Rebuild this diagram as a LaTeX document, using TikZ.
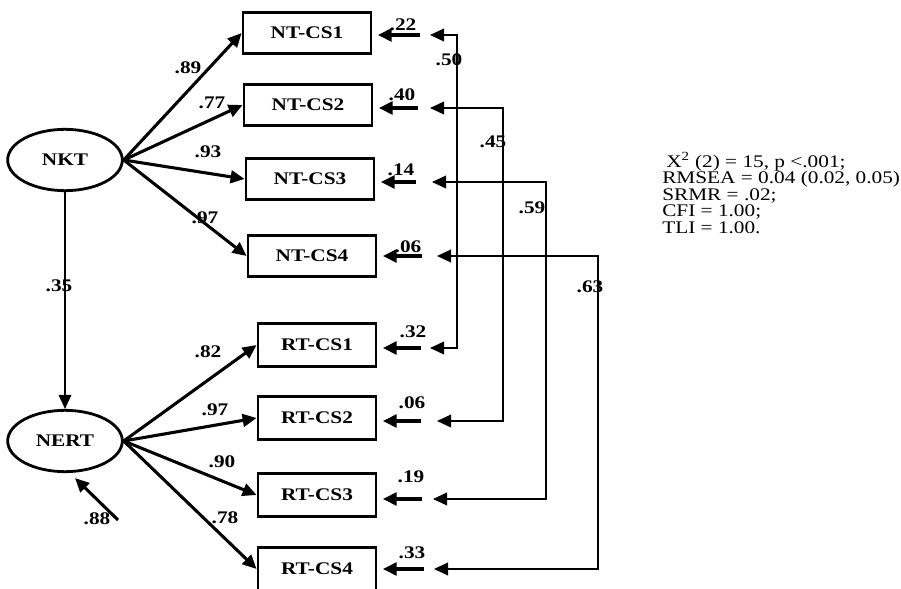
\documentclass[tikz,border=0pt]{standalone}
\usepackage{fontspec}
\setmainfont{Liberation Serif}[FakeStretch=1.2]
\usetikzlibrary{arrows.meta,calc,shapes.geometric}

\begin{document}
\begin{tikzpicture}[x=.75pt, y=-.75pt,
  every node/.style={font=\fontsize{13.3}{15}\selectfont\bfseries},
  ahead/.style={-{Triangle[length=10.5pt,width=9.5pt]}},
  latent/.style={draw, ellipse, line width=2.1pt, minimum width=86pt, minimum height=46pt, inner sep=0pt},
  ntbox/.style={draw, rectangle, line width=2.1pt, minimum width=96pt, minimum height=31pt, inner sep=0pt},
  rtbox/.style={ntbox, minimum width=88.5pt, minimum height=32pt},
  loading/.style={ahead, line width=2.3pt},
  resid/.style={ahead, line width=2.7pt, shorten >=4pt},
  corr/.style={{Triangle[length=10.5pt,width=9.5pt]}-{Triangle[length=10.5pt,width=9.5pt]}, line width=1.1pt},
  coef/.style={inner sep=0pt},
  fit/.style={font=\fontsize{13.3}{13}\selectfont, anchor=base west, inner sep=0pt}]
  \useasboundingbox (0,0) rectangle (901,589);
  \node[latent] (NKT) at (65,160) {NKT};
  \node[latent] (NERT) at (65,441) {NERT};
  \foreach \n/\x/\y/\t in {NT1/307/33/NT-CS1, NT2/308/105/NT-CS2, NT3/310/179/NT-CS3, NT4/312/256/NT-CS4}
    \node[ntbox] (\n) at (\x,\y) {\t};
  \foreach \n/\x/\y/\t in {RT1/317/345/RT-CS1, RT2/317/418/RT-CS2, RT3/317/495/RT-CS3, RT4/317/569/RT-CS4}
    \node[rtbox] (\n) at (\x,\y) {\t};
  \foreach \n/\v/\x/\y in {NT1/.89/188/68, NT2/.77/212/103, NT3/.93/208/152, NT4/.97/205/218} {
    \draw[loading] (NKT.east) -- (\n.west);
    \node[coef] (l\n) at (\x,\y) {\v};
  }
  \foreach \n/\v/\x/\y in {RT1/.82/208/352, RT2/.97/215/410, RT3/.90/222/462, RT4/.78/225/518} {
    \draw[loading] (NERT.east) -- (\n.west);
    \node[coef] (l\n) at (\x,\y) {\v};
  }
  \draw[ahead, line width=.9pt] (NKT.south) -- (NERT.north);
  \node[coef] (lNERT) at (59,286) {.35};
  \coordinate (dNERT) at (118,520);
  \draw[loading] (dNERT) -- ([shift={(10,5)}]NERT.south);
  \node[coef] (rNERT) at (97,519) {.88};
  \foreach \n/\v/\ex/\ey/\lx/\ly in {NT1/.22/420/35/403/25, NT2/.40/418/108/402/95,
      NT3/.14/416/182/401/170, NT4/.06/422/256/408/247, RT1/.32/421/348/413/332,
      RT2/.06/421/421/412/403, RT3/.19/422/499/411/477, RT4/.33/424/569/412/553} {
    \coordinate (e\n) at (\ex,\ey);
    \draw[resid] (e\n) -- (e\n -| \n.east);
    \node[coef] (r\n) at (\lx,\ly) {\v};
  }
  \foreach \a/\b/\ax/\ay/\kx/\bx/\by/\lx/\ly/\v in {NT1/RT1/430/35/457/430/348/449/60/.50,
      NT2/RT2/430/108/503/437/421/493/142/.45, NT3/RT3/432/182/546/433/499/532/208/.59,
      NT4/RT4/437/256/598/434/569/590/287/.63} {
    \coordinate (c\a) at (\ax,\ay);
    \coordinate (c\b) at (\bx,\by);
    \draw[corr] (c\a) -- (\kx,\ay) -- (\kx,\by) -- (c\b);
    \node[coef] (k\a) at (\lx,\ly) {\v};
  }
  \foreach \i/\y/\t in {1/167/{\hspace{3pt}X\textsuperscript{2} (2) = 15, p <.001;},
      2/183.5/{RMSEA = 0.04 (0.02, 0.05)}, 3/200/{SRMR = .02;}, 4/216.5/{CFI = 1.00;},
      5/233/{TLI = 1.00.}}
    \node[fit] (fit\i) at (662,\y) {\t};
\end{tikzpicture}
\end{document}
